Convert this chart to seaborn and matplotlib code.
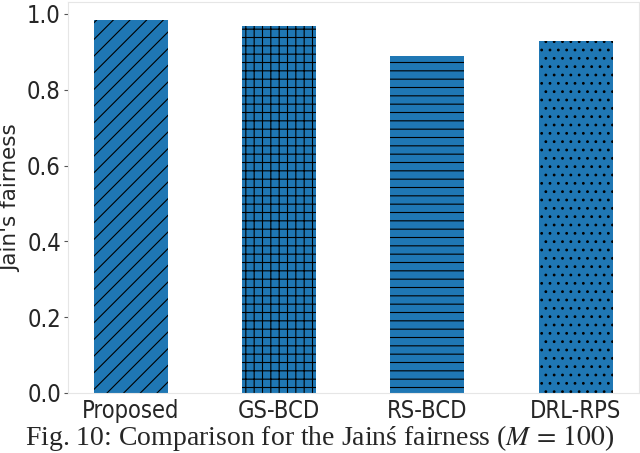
import seaborn as sns
import matplotlib.pyplot as plt
import pandas as pd

methods = ['Proposed', 'GS-BCD', 'RS-BCD', 'DRL-RPS']
fairness = [0.984, 0.968, 0.889, 0.929]
hatches = ['//', '++', '--', '..']

sns.set_style('white')
plt.rcParams['hatch.linewidth'] = 0.8
plt.rcParams['mathtext.fontset'] = 'stix'

df = pd.DataFrame({'method': methods, 'fairness': fairness})

fig = plt.figure(figsize=(6.4, 4.53), dpi=100)
ax = fig.add_axes([0.106, 0.1325, 0.892, 0.862])
sns.barplot(data=df, x='method', y='fairness', color='#1f77b4', saturation=1,
            width=0.5, ax=ax)
for bar, h in zip(ax.patches, hatches):
    bar.set_hatch(h)
    bar.set_edgecolor('black')
    bar.set_linewidth(0)

ax.set_xlim(-0.425, 3.425)
ax.set_ylim(0, 1.03)
ax.set_yticks([0.0, 0.2, 0.4, 0.6, 0.8, 1.0])
ax.tick_params(axis='y', left=True, length=3, width=0.8, color='#555555', pad=2)
ax.tick_params(axis='x', pad=1)
for lbl in ax.get_xticklabels() + ax.get_yticklabels():
    lbl.set_fontsize(17)
    lbl.set_fontstretch('condensed')
ax.set_xlabel('')
ax.set_ylabel("Jain's fairness", fontsize=15.5)
for s in ax.spines.values():
    s.set_color('#e6e6e6')

fig.text(0.5, 0.0, r"Fig. 10: Comparison for the Jainś fairness ($M\,=\,100$)",
         ha='center', va='bottom', fontsize=20, family='Liberation Serif')

fig.savefig('out.png', dpi=100)
